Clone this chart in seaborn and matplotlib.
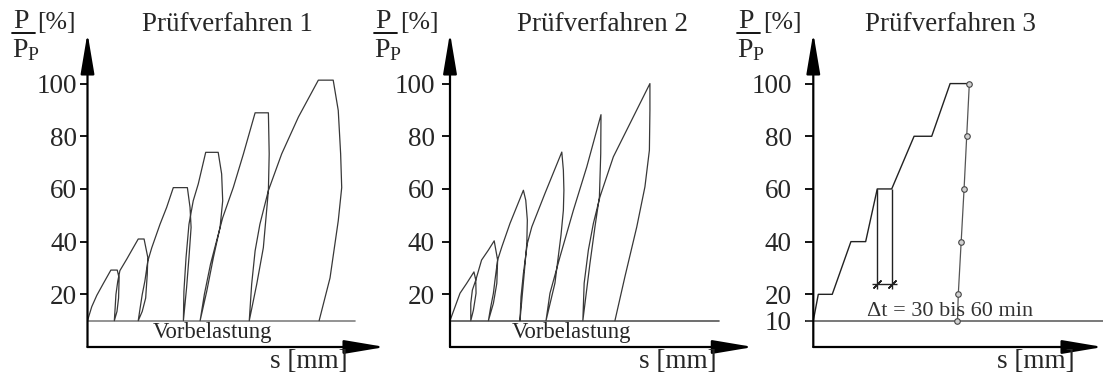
import matplotlib
matplotlib.use("Agg")
import matplotlib.pyplot as plt
from matplotlib.lines import Line2D
import seaborn as sns

# Prüfverfahren 1: Belastungspfad (Laden, Halten, Entlasten auf Vorlast, Wiederbelasten)
PV1_S = [0, 1.6, 3.5, 5.9, 8.8, 11.2,
         11.9, 11.7, 11.1, 10.1,
         10.4, 10.7, 11.4, 12.2, 14.8, 16.6, 19.1, 21.3,
         22.7, 22.5, 21.9, 20.6, 19.1,
         19.8, 20.6, 21.6, 22.7, 24.2, 27.3, 29.8, 32.3, 37.6,
         38.6, 39.0, 38.2, 37.3, 36.1,
         36.3, 37.1, 38.2, 39.8, 41.7, 44.5, 49.2,
         50.5, 50.9, 49.9, 47.4, 44.9, 42.4,
         44.0, 46.3, 48.6, 50.9, 54.9, 58.7, 63.1, 68.1,
         68.4, 68.1, 66.2, 63.7, 60.9,
         61.8, 63.1, 64.9, 68.1, 73.1, 79.4, 86.9, 92.5,
         94.4, 95.3, 95.7, 94.4, 91.3, 87.2]
PV1_P = [10, 15.3, 19.6, 24.0, 29.2, 29.2,
         26.2, 18.6, 13.5, 10,
         14.7, 19.9, 25.0, 29.0, 33.4, 36.6, 41.0, 41.0,
         34.0, 27.6, 18.6, 13.5, 10,
         14.7, 19.9, 25.0, 32.6, 37.7, 46.6, 53.0, 60.5, 60.5,
         53.0, 45.4, 34.0, 22.5, 10,
         21.2, 34.0, 46.6, 55.5, 61.9, 73.9, 73.9,
         65.7, 55.5, 45.4, 34.0, 21.2, 10,
         20.0, 31.4, 40.3, 49.1, 60.6, 73.3, 88.9, 88.9,
         73.3, 59.4, 37.7, 23.8, 10,
         23.8, 36.5, 46.6, 59.4, 73.3, 87.3, 101.3, 101.3,
         89.8, 73.3, 60.5, 47.9, 26.2, 10]

# Prüfverfahren 2: Laden ohne Haltephase, Entlasten auf Vorlast
PV2_S = [0, 3.8, 6.3, 9.1,
         9.8, 9.9, 8.9, 7.9,
         7.9, 8.5, 9.8, 12.0, 14.6, 16.8,
         18.1, 17.8, 16.5, 14.6,
         15.5, 16.5, 17.1, 18.1, 19.7, 22.8, 27.9,
         28.8, 29.4, 29.2, 28.1, 26.6,
         27.0, 27.9, 29.4, 31.1, 36.1, 42.5,
         43.1, 43.3, 43.1, 42.2, 39.9, 36.5,
         38.0, 41.8, 46.9, 52.0, 57.4,
         57.3, 56.8, 55.1, 53.2, 50.5,
         51.0, 52.6, 54.5, 57.0, 62.1, 68.4, 76.0,
         76.0, 75.8, 74.1, 71.0, 66.5, 62.7]
PV2_P = [10, 20.4, 24.1, 28.5,
         25.4, 20.4, 14.0, 10,
         16.6, 21.6, 25.4, 33.0, 36.8, 40.3,
         33.0, 24.2, 16.6, 10,
         15.3, 20.4, 25.4, 33.0, 38.0, 46.9, 59.5,
         55.7, 48.2, 39.3, 26.7, 10,
         19.1, 27.9, 39.3, 45.6, 58.3, 74.0,
         67.1, 59.5, 51.9, 42.5, 24.3, 10,
         20.4, 34.2, 51.9, 68.4, 88.2,
         73.4, 57.0, 45.6, 31.7, 10,
         24.2, 36.8, 46.9, 57.0, 72.2, 84.8, 100.0,
         89.9, 74.7, 60.8, 45.6, 26.7, 10]

# Prüfverfahren 3: Laststufen mit Haltezeiten, Entlastung mit Messpunkten
PV3_S = [0, 1.9, 7.2, 14.3, 19.9, 24.3, 29.8, 38.3, 45.0, 52.0, 59.3]
PV3_P = [10, 20, 20, 40, 40, 60, 60, 80, 80, 100, 100]
PV3_UNLOAD_S = [59.3, 58.3, 57.3, 56.2, 55.1, 54.8]
PV3_UNLOAD_P = [100, 80, 60, 40, 20, 10]
PV3_HOLD_S = [24.3, 29.8]
PV3_HOLD_P = [60, 22]
PV3_DIM_S = [22.2, 31.7]
PV3_DIM_P = 24

VORLAST = 10
TICKS_12 = [20, 40, 60, 80, 100]
TICKS_3 = [10, 20, 40, 60, 80, 100]
TITLES = ["Prüfverfahren 1", "Prüfverfahren 2", "Prüfverfahren 3"]

sns.set_style("white")
plt.rcParams["font.family"] = ["Liberation Serif", "DejaVu Serif"]
plt.rcParams["mathtext.fontset"] = "custom"
plt.rcParams["mathtext.rm"] = "Liberation Serif"
plt.rcParams["mathtext.it"] = "Liberation Serif:italic"

W, H = 1103, 382
fig = plt.figure(figsize=(W / 100, H / 100), dpi=100)

# (left px, width px, xmax, tick pad, title x, xlabel x)
layout = [
    (87.5, 297.5, 112.0, 1.5, 0.471, 0.876),
    (450.0, 303.3, 115.3, 4.8, 0.504, 0.879),
    (813.3, 289.7, 110.1, 9.5, 0.472, 0.903),
]
line_col = "#383838"
top_px = 33

axes = []
for i, (left, width, xmax, pad, tx, lx) in enumerate(layout):
    ax = fig.add_axes([left / W, 35 / H, width / W, (347 - top_px) / H])
    ax.set_xlim(0, xmax)
    ax.set_ylim(0, 119.2)
    for side in ["top", "right", "bottom", "left"]:
        ax.spines[side].set_visible(False)
    ax.set_xticks([])
    ax.set_yticks(TICKS_3 if i == 2 else TICKS_12)
    ax.tick_params(axis="y", left=True, length=6, width=1.3, pad=pad,
                   labelsize=19.5, color="black")

    arrow = dict(arrowstyle="-|>,head_length=2.5,head_width=0.42", lw=1.6,
                 color="black", shrinkA=0, shrinkB=0)
    ax.annotate("", xy=(1, 0), xytext=(0, 0), xycoords="axes fraction", arrowprops=arrow)
    ax.annotate("", xy=(0, 1), xytext=(0, 0), xycoords="axes fraction", arrowprops=arrow)

    # y-Achsenbeschriftung P / P_P [%]
    ax.annotate("P", xy=(0, 1), xycoords="axes fraction", xytext=(-67, 5),
                textcoords="offset pixels", ha="center", va="baseline", fontsize=20)
    fig.add_artist(Line2D([(left - 76) / W, (left - 53) / W],
                          [(H - 33) / H, (H - 33) / H], color="black", lw=1.3))
    ax.annotate(r"$\mathrm{P}_{\mathrm{P}}$", xy=(0, 1), xycoords="axes fraction",
                xytext=(-76, -24), textcoords="offset pixels", ha="left",
                va="baseline", fontsize=20)
    ax.annotate("[%]", xy=(0, 1), xycoords="axes fraction", xytext=(-50, 4),
                textcoords="offset pixels", ha="left", va="baseline", fontsize=18.5)

    ax.text(tx, 1.006, TITLES[i], transform=ax.transAxes, ha="center",
            va="baseline", fontsize=19.5)
    ax.text(lx, -0.066, "s [mm]", transform=ax.transAxes, ha="right",
            va="baseline", fontsize=19.5)
    axes.append(ax)

ax1, ax2, ax3 = axes

# Prüfverfahren 1
ax1.axhline(VORLAST, xmax=0.9, color="#808080", lw=1.2)
sns.lineplot(x=PV1_S, y=PV1_P, sort=False, estimator=None, color=line_col, lw=0.9, ax=ax1)
ax1.text(47, 3.4, "Vorbelastung", ha="center", va="baseline", fontsize=16.3)

# Prüfverfahren 2
ax2.axhline(VORLAST, xmax=0.888, color="#555555", lw=1.2)
sns.lineplot(x=PV2_S, y=PV2_P, sort=False, estimator=None, color=line_col, lw=0.9, ax=ax2)
ax2.text(46.3, 3.4, "Vorbelastung", ha="center", va="baseline", fontsize=16.3)

# Prüfverfahren 3
ax3.axhline(VORLAST, xmin=-0.025, xmax=1, clip_on=False, color="#555555", lw=1.1)
sns.lineplot(x=PV3_S, y=PV3_P, sort=False, estimator=None, color="#222222", lw=1.0, ax=ax3)
sns.lineplot(x=PV3_UNLOAD_S, y=PV3_UNLOAD_P, sort=False, estimator=None, color="#555555",
             lw=0.9, marker="o", markersize=4, markerfacecolor="#d0d0d0",
             markeredgecolor="#444444", markeredgewidth=0.8, ax=ax3)
ax3.vlines(PV3_HOLD_S, PV3_HOLD_P[1], PV3_HOLD_P[0], color="#222222", lw=1.0)
ax3.hlines(PV3_DIM_P, PV3_DIM_S[0], PV3_DIM_S[1], color="#222222", lw=1.0)
ax3.plot(PV3_HOLD_S, [PV3_DIM_P] * len(PV3_HOLD_S), ls="", marker=(2, 2, -45),
         ms=8, mew=1.0, color="#222222")
ax3.text(20.3, 11.8, "Δt = 30 bis 60 min", ha="left", va="baseline", fontsize=16,
         color="#333333")

fig.savefig("out.png", dpi=100)
